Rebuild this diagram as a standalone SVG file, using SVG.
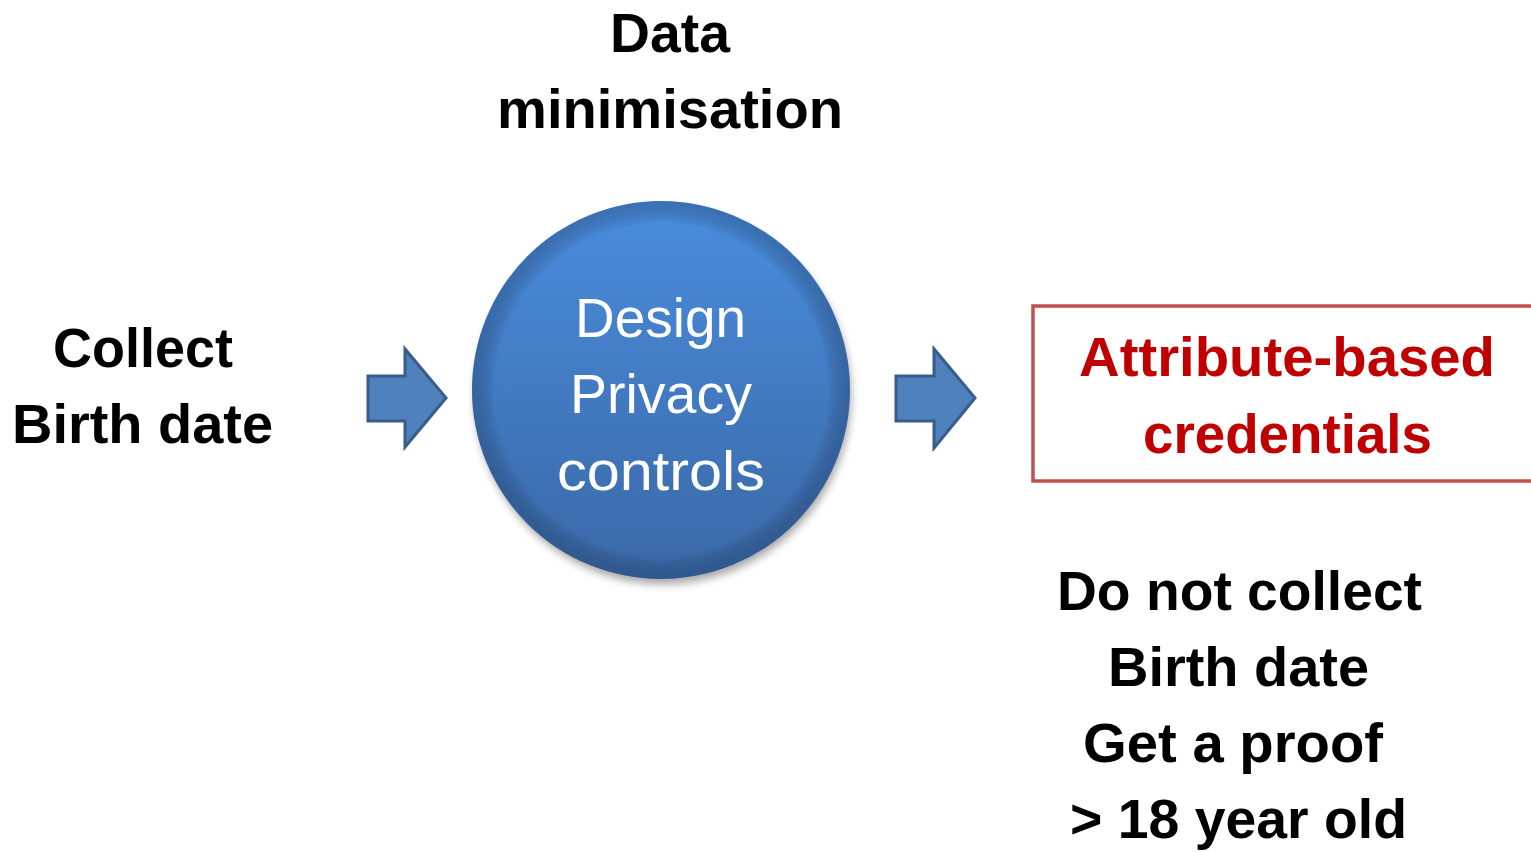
<svg xmlns="http://www.w3.org/2000/svg" width="1531" height="852" viewBox="0 0 1531 852">
<style>
.t{font-family:"Liberation Sans",Arial,sans-serif;font-size:56px;font-weight:bold;fill:#000;text-anchor:middle}
.w{font-family:"Liberation Sans",Arial,sans-serif;font-size:56px;fill:#fff;text-anchor:middle}
.r{fill:#c00000}
.arrow{fill:#4f81bd;stroke:#385d8a;stroke-width:3;stroke-linejoin:miter}
</style>
<defs>
<linearGradient id="cg" x1="0" y1="0" x2="0" y2="1">
<stop offset="0" stop-color="#4a8ddd"/>
<stop offset="1" stop-color="#3a68a6"/>
</linearGradient>
<radialGradient id="rim" cx="0.5" cy="0.5" r="0.5">
<stop offset="0.88" stop-color="#000" stop-opacity="0"/>
<stop offset="1" stop-color="#1d3c66" stop-opacity="0.35"/>
</radialGradient>
<filter id="sh" x="-20%" y="-20%" width="140%" height="140%">
<feGaussianBlur stdDeviation="4"/>
</filter>
</defs>
<rect width="1531" height="852" fill="#fff"/>

<g id="label-top">
<text class="t" x="670" y="52" textLength="120" lengthAdjust="spacingAndGlyphs">Data</text>
<text class="t" x="670" y="128" textLength="346" lengthAdjust="spacingAndGlyphs">minimisation</text>
</g>

<g id="node-collect">
<text class="t" x="143" y="367" textLength="180" lengthAdjust="spacingAndGlyphs">Collect</text>
<text class="t" x="142.5" y="443" textLength="261" lengthAdjust="spacingAndGlyphs">Birth date</text>
</g>

<g id="node-design">
<circle cx="663" cy="396" r="188" fill="#000" opacity="0.35" filter="url(#sh)"/>
<circle cx="661" cy="390" r="189" fill="url(#cg)"/>
<circle cx="661" cy="390" r="189" fill="url(#rim)"/>
<text class="w" x="660.5" y="337" textLength="171" lengthAdjust="spacingAndGlyphs">Design</text>
<text class="w" x="661" y="413" textLength="182" lengthAdjust="spacingAndGlyphs">Privacy</text>
<text class="w" x="661" y="490" textLength="208" lengthAdjust="spacingAndGlyphs">controls</text>
</g>

<g id="node-abc">
<rect x="1033" y="306" width="520" height="175" fill="#fff" stroke="#c0504d" stroke-width="3.5"/>
<text class="t r" x="1287" y="376" textLength="416" lengthAdjust="spacingAndGlyphs">Attribute-based</text>
<text class="t r" x="1287.5" y="453" textLength="289" lengthAdjust="spacingAndGlyphs">credentials</text>
</g>

<g id="node-result">
<text class="t" x="1239.5" y="610" textLength="365" lengthAdjust="spacingAndGlyphs">Do not collect</text>
<text class="t" x="1238.5" y="686" textLength="261" lengthAdjust="spacingAndGlyphs">Birth date</text>
<text class="t" x="1233" y="762" textLength="300" lengthAdjust="spacingAndGlyphs">Get a proof</text>
<text class="t" x="1238.5" y="838" textLength="337" lengthAdjust="spacingAndGlyphs">&gt; 18 year old</text>
</g>

<g id="connectors">
<path class="arrow" d="M368,376 L405,376 L405,349 L446,398 L405,447 L405,421 L368,421 Z"/>
<path class="arrow" d="M896,376 L934,376 L934,349 L975,398 L934,448 L934,421 L896,421 Z"/>
</g>
</svg>
